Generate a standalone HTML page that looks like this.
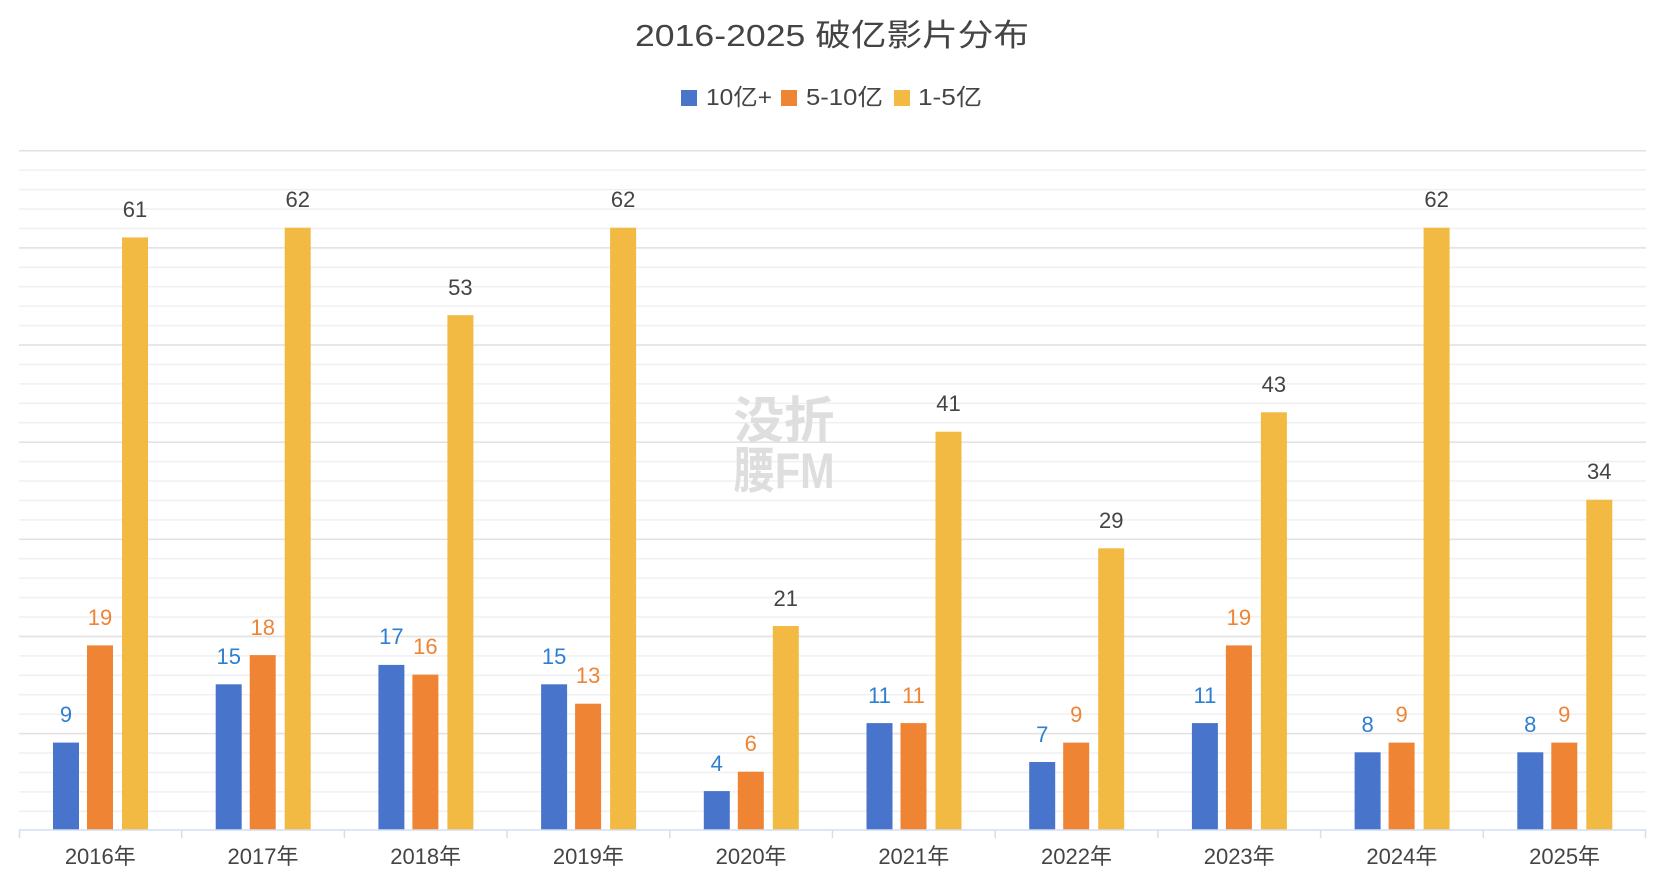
<!DOCTYPE html>
<html><head><meta charset="utf-8"><style>
html,body{margin:0;padding:0;background:#fff;}
svg{display:block;font-family:"Liberation Sans","Noto Sans CJK SC",sans-serif;}
</style></head><body>
<svg width="1666" height="888" viewBox="0 0 1666 888" xmlns="http://www.w3.org/2000/svg">
<defs>
<pattern id="g1" patternUnits="userSpaceOnUse" x="0" y="830" width="1666" height="19.43"><rect x="0" y="0" width="1666" height="1.5" fill="#f0f0f0"/></pattern>
<pattern id="g2" patternUnits="userSpaceOnUse" x="0" y="830" width="1666" height="97.14"><rect x="0" y="0" width="1666" height="1.5" fill="#e2e2e2"/></pattern>
</defs>
<rect x="19" y="149" width="1627" height="680" fill="url(#g1)"/>
<rect x="19" y="149" width="1627" height="680" fill="url(#g2)"/>
<text x="832" y="46" text-anchor="middle" font-size="31" fill="#444" textLength="394" lengthAdjust="spacingAndGlyphs">2016-2025 破亿影片分布</text>
<rect x="681" y="90" width="16" height="16" fill="#4874cb"/>
<text x="706" y="105" font-size="23" fill="#444" textLength="66" lengthAdjust="spacingAndGlyphs">10亿+</text>
<rect x="781" y="90" width="16" height="16" fill="#ee8434"/>
<text x="806" y="105" font-size="23" fill="#444" textLength="77" lengthAdjust="spacingAndGlyphs">5-10亿</text>
<rect x="894" y="90" width="16" height="16" fill="#f2ba42"/>
<text x="918" y="105" font-size="23" fill="#444" textLength="64" lengthAdjust="spacingAndGlyphs">1-5亿</text>
<g font-size="50" font-weight="bold" fill="#dedede" text-anchor="middle">
<text x="784" y="438" textLength="101" lengthAdjust="spacingAndGlyphs">没折</text>
<text x="784" y="488" textLength="101" lengthAdjust="spacingAndGlyphs">腰FM</text>
</g>
<g fill="#4874cb">
<rect x="53" y="742.6" width="26" height="87.4"/>
<rect x="215.7" y="684.3" width="26" height="145.7"/>
<rect x="378.4" y="664.9" width="26" height="165.1"/>
<rect x="541.1" y="684.3" width="26" height="145.7"/>
<rect x="703.8" y="791.1" width="26" height="38.9"/>
<rect x="866.5" y="723.1" width="26" height="106.9"/>
<rect x="1029.2" y="762" width="26" height="68"/>
<rect x="1191.9" y="723.1" width="26" height="106.9"/>
<rect x="1354.6" y="752.3" width="26" height="77.7"/>
<rect x="1517.3" y="752.3" width="26" height="77.7"/>
</g>
<g fill="#ee8434">
<rect x="87" y="645.4" width="26" height="184.6"/>
<rect x="249.7" y="655.1" width="26" height="174.9"/>
<rect x="412.4" y="674.6" width="26" height="155.4"/>
<rect x="575.1" y="703.7" width="26" height="126.3"/>
<rect x="737.8" y="771.7" width="26" height="58.3"/>
<rect x="900.5" y="723.1" width="26" height="106.9"/>
<rect x="1063.2" y="742.6" width="26" height="87.4"/>
<rect x="1225.9" y="645.4" width="26" height="184.6"/>
<rect x="1388.6" y="742.6" width="26" height="87.4"/>
<rect x="1551.3" y="742.6" width="26" height="87.4"/>
</g>
<g fill="#f2ba42">
<rect x="122" y="237.4" width="26" height="592.6"/>
<rect x="284.7" y="227.7" width="26" height="602.3"/>
<rect x="447.4" y="315.2" width="26" height="514.8"/>
<rect x="610.1" y="227.7" width="26" height="602.3"/>
<rect x="772.8" y="626" width="26" height="204"/>
<rect x="935.5" y="431.7" width="26" height="398.3"/>
<rect x="1098.2" y="548.3" width="26" height="281.7"/>
<rect x="1260.9" y="412.3" width="26" height="417.7"/>
<rect x="1423.6" y="227.7" width="26" height="602.3"/>
<rect x="1586.3" y="499.7" width="26" height="330.3"/>
</g>
<g font-size="22" fill="#2f7fd1" text-anchor="middle">
<text x="66" y="722">9</text>
<text x="228.7" y="664">15</text>
<text x="391.4" y="644">17</text>
<text x="554.1" y="664">15</text>
<text x="716.8" y="771">4</text>
<text x="879.5" y="703">11</text>
<text x="1042.2" y="742">7</text>
<text x="1204.9" y="703">11</text>
<text x="1367.6" y="732">8</text>
<text x="1530.3" y="732">8</text>
</g>
<g font-size="22" fill="#ee8434" text-anchor="middle">
<text x="100" y="625">19</text>
<text x="262.7" y="635">18</text>
<text x="425.4" y="654">16</text>
<text x="588.1" y="683">13</text>
<text x="750.8" y="751">6</text>
<text x="913.5" y="703">11</text>
<text x="1076.2" y="722">9</text>
<text x="1238.9" y="625">19</text>
<text x="1401.6" y="722">9</text>
<text x="1564.3" y="722">9</text>
</g>
<g font-size="22" fill="#444" text-anchor="middle">
<text x="135" y="217">61</text>
<text x="297.7" y="207">62</text>
<text x="460.4" y="295">53</text>
<text x="623.1" y="207">62</text>
<text x="785.8" y="606">21</text>
<text x="948.5" y="411">41</text>
<text x="1111.2" y="528">29</text>
<text x="1273.9" y="392">43</text>
<text x="1436.6" y="207">62</text>
<text x="1599.3" y="479">34</text>
</g>
<line x1="19" y1="830" x2="1646" y2="830" stroke="#d4def2" stroke-width="1.5"/>
<g stroke="#d4def2" stroke-width="1.5">
<line x1="19.5" y1="830" x2="19.5" y2="838"/><line x1="181.7" y1="830" x2="181.7" y2="838"/><line x1="344.4" y1="830" x2="344.4" y2="838"/><line x1="507.1" y1="830" x2="507.1" y2="838"/><line x1="669.8" y1="830" x2="669.8" y2="838"/><line x1="832.5" y1="830" x2="832.5" y2="838"/><line x1="995.2" y1="830" x2="995.2" y2="838"/><line x1="1157.9" y1="830" x2="1157.9" y2="838"/><line x1="1320.6" y1="830" x2="1320.6" y2="838"/><line x1="1483.3" y1="830" x2="1483.3" y2="838"/><line x1="1645.5" y1="830" x2="1645.5" y2="838"/>
</g>
<g font-size="22" fill="#444" text-anchor="middle">
<text x="100.3" y="864">2016年</text>
<text x="263" y="864">2017年</text>
<text x="425.7" y="864">2018年</text>
<text x="588.4" y="864">2019年</text>
<text x="751.1" y="864">2020年</text>
<text x="913.8" y="864">2021年</text>
<text x="1076.5" y="864">2022年</text>
<text x="1239.2" y="864">2023年</text>
<text x="1401.9" y="864">2024年</text>
<text x="1564.6" y="864">2025年</text>
</g>
</svg>
</body></html>
